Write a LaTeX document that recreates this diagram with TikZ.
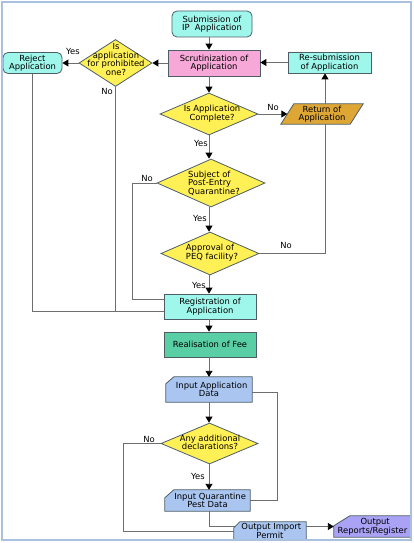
\documentclass[tikz,border=0pt]{standalone}
\usepackage{fontspec}
\setmainfont{DejaVu Sans}
\usetikzlibrary{shapes.geometric,arrows.meta,backgrounds}
\definecolor{cyanF}{HTML}{9FF7EC}
\definecolor{pinkF}{HTML}{F7A8D8}
\definecolor{yellowF}{HTML}{FFF055}
\definecolor{goldF}{HTML}{DDA635}
\definecolor{greenF}{HTML}{5ACFA5}
\definecolor{blueF}{HTML}{A9C5F0}
\definecolor{purpleF}{HTML}{A9A2F5}
\definecolor{frameC}{HTML}{A9C1DE}
\definecolor{bordC}{HTML}{4D5E66}
\definecolor{lineC}{HTML}{6E6E6E}
\newcommand{\fs}{\fontsize{8.4}{8.6}\selectfont}
\begin{document}
\begin{tikzpicture}[x=1pt,y=-1pt,
  box/.style={draw=bordC, line width=0.8pt, inner sep=0pt, align=center, font=\fs},
  dia/.style={diamond, draw=bordC, fill=yellowF, line width=0.8pt, inner sep=0pt},
  txt/.style={inner sep=0pt, align=center, font=\fs},
  shp/.style={draw=bordC, line width=0.8pt},
  ln/.style={draw=lineC, line width=0.9pt},
  arr/.style={ln, -{Triangle[width=7pt,length=6pt,color=black]}},
  lab/.style={font=\fs, inner sep=0pt}]
\useasboundingbox (0,0) rectangle (414,543);

% nodes
\node[box, rounded corners=5pt, fill=cyanF, minimum width=80pt, minimum height=26pt] (sub) at (212,24) {Submission of\\IP~ Application};
\node[box, fill=pinkF, minimum width=92pt, minimum height=26pt] (scr) at (214,63) {Scrutinization of\\Application};
\node[box, fill=cyanF, minimum width=83pt, minimum height=21pt] (res) at (329.5,62.5) {Re-submission\\of Application};
\node[box, rounded corners=5pt, fill=cyanF, minimum width=59pt, minimum height=21pt] (rej) at (32.5,63) {Reject\\Application};

\node[dia, minimum width=73pt, minimum height=47pt] (pro) at (115.5,63) {};
\node[txt] at (116,59.5) {Is\\application\\for prohibited\\one?};

\node[dia, minimum width=98pt, minimum height=42pt] (cmp) at (209,114) {};
\node[txt] at (212,113.5) {Is Application\\Complete?};

\node[txt, minimum width=82pt, minimum height=20pt] (ret) at (322,114) {Return of\\Application};

\node[dia, minimum width=108pt, minimum height=48pt] (sbj) at (211,183) {};
\node[txt, align=left] at (214,183) {Subject of\\Post-Entry\\Quarantine?};

\node[dia, minimum width=98pt, minimum height=43pt] (peq) at (210,253.5) {};
\node[txt, align=left] at (212,252.5) {Approval of\\PEQ facility?};

\node[box, fill=cyanF, minimum width=92pt, minimum height=25pt] (reg) at (210,306.5) {Registration of\\Application};
\node[box, fill=greenF, minimum width=92pt, minimum height=25pt] (fee) at (210,344.5) {Realisation of Fee};

\node[txt, minimum width=86pt, minimum height=25pt] (iad) at (209,389.5) {~~Input Application\\Data};

\node[dia, minimum width=97pt, minimum height=41pt] (add) at (209.5,443.5) {};
\node[txt] at (210,442.5) {Any additional\\declarations?};

\node[txt, minimum width=85pt, minimum height=21pt] (iqp) at (207.5,500.5) {~~Input Quarantine\\Pest Data};
\node[txt, minimum width=72pt, minimum height=18pt] (oip) at (270,531) {~Output Import\\Permit};
\node[txt, minimum width=77pt, minimum height=21pt] (orr) at (372.5,526.5) {~~Output\\Reports/Register};

% special shapes behind text
\begin{scope}[on background layer]
\fill[white] (0,0) rectangle (414,543);
\path[shp, fill=goldF] (ret.south west) -- ([xshift=13pt]ret.north west) -- (ret.north east) -- ([xshift=-13pt]ret.south east) -- cycle;
\path[shp, fill=blueF] (iad.south west) -- ([yshift=-7pt]iad.north west) -- ([xshift=8pt]iad.north west) -- (iad.north east) -- (iad.south east) -- cycle;
\path[shp, fill=blueF] (iqp.south west) -- ([yshift=-8pt]iqp.north west) -- ([xshift=9pt]iqp.north west) -- (iqp.north east) -- (iqp.south east) -- cycle;
\path[shp, fill=blueF] (oip.south west) -- ([yshift=-6pt]oip.north west) -- ([xshift=6pt]oip.north west) -- (oip.north east) -- (oip.south east) -- cycle;
\path[shp, fill=purpleF] (orr.south west) -- ([yshift=-10pt]orr.north west) -- ([xshift=16pt]orr.north west) -- (orr.north east) -- (orr.south east) -- cycle;
\end{scope}

% connectors
\draw[arr] (sub.south -| cmp.north) -- (scr.north -| cmp.north);
\draw[arr] (scr.south -| cmp.north) -- (cmp.north);
\draw[arr] (scr.west) -- (pro.east);
\draw[arr] (pro.west) -- (rej.east);
\coordinate (jA) at ([yshift=-4.5pt]reg.west);
\coordinate (jB) at ([yshift=7.5pt]reg.west);
\draw[ln] (rej.south) |- (jA);
\draw[ln] (pro.south) -- (pro.south |- jA);
\draw[ln] (sbj.west) -- ++(-24,0) |- (jB);
\draw[arr] (cmp.east) -- ([xshift=6.5pt]ret.west);
\draw[arr] ([xshift=3pt]ret.north) -- ([xshift=3pt]ret.north |- res.south);
\draw[arr] (res.west) -- (scr.east |- res.west);
\draw[ln] (peq.east) -| ([xshift=3pt]ret.south);
\draw[arr] (cmp.south) -- (cmp.south |- sbj.north);
\draw[arr] (sbj.south -| cmp.south) -- (cmp.south |- peq.north);
\draw[arr] (peq.south -| cmp.south) -- (cmp.south |- reg.north);
\draw[arr] (reg.south -| cmp.south) -- (cmp.south |- fee.north);
\draw[arr] (fee.south -| cmp.south) -- (cmp.south |- iad.north);
\draw[ln] ([yshift=-3pt]iad.east) -- ++(25,0) |- (iqp.east);
\draw[arr] (iad.south -| cmp.south) -- (cmp.south |- add.north);
\draw[arr] (add.south -| cmp.south) -- (cmp.south |- iqp.north);
\draw[ln] (add.west) -- ++(-37,0) |- (oip.west);
\draw[ln] (iqp.south -| cmp.south) |- ([xshift=2pt,yshift=5pt]oip.west);
\draw[arr] ([yshift=4.5pt]oip.east) -- (orr.west);

% labels
\node[lab] at (73,51) {Yes};
\node[lab] at (107,91) {No};
\node[lab] at (273,107) {No};
\node[lab] at (201,143) {Yes};
\node[lab] at (147,178) {No};
\node[lab] at (200,218) {Yes};
\node[lab] at (286,245) {No};
\node[lab] at (199,285) {Yes};
\node[lab] at (149,439) {No};
\node[lab] at (198,476) {Yes};

% frame
\draw[frameC, line width=2pt] (2,2) rectangle (411,540);
\end{tikzpicture}
\end{document}
